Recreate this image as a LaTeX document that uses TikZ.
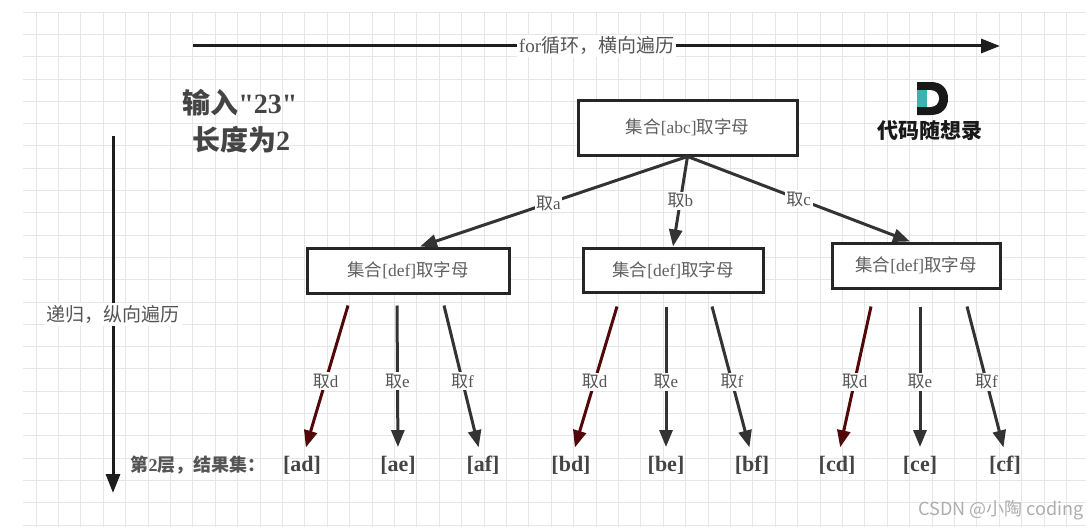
\documentclass[tikz,border=0pt]{standalone}
\usepackage{fontspec}
\setmainfont{Liberation Serif}[Ligatures=TeXOff]
\newfontfamily\cjk{Noto Sans CJK SC}
\usetikzlibrary{arrows.meta}
\definecolor{gridc}{HTML}{E6E6E6}
\definecolor{edgec}{HTML}{333333}
\definecolor{axisc}{HTML}{1E1E1E}
\definecolor{redc}{HTML}{520808}
\definecolor{txtc}{HTML}{555555}
\definecolor{boxtxt}{HTML}{606060}
\definecolor{titlec}{HTML}{444444}
\definecolor{logoteal}{HTML}{3BB3B3}
\begin{document}
\begin{tikzpicture}[x=1pt,y=-1pt,
  gridline/.style={draw=gridc, line width=0.8pt},
  axis/.style={draw=axisc, line width=3pt, -{Triangle[length=19pt,width=14pt]}},
  axlab/.style={fill=white, inner sep=2pt, text=txtc, font=\fontsize{19}{22}\selectfont},
  setbox/.style={draw=black!85, line width=3pt, fill=white, inner sep=0pt, text=boxtxt, font=\fontsize{17.5}{20}\selectfont},
  edge/.style={draw=edgec, line width=3pt, -{Triangle[length=17pt,width=13pt]}},
  redge/.style={edge, draw=redc},
  elab/.style={fill=white, inner sep=1.5pt, text=txtc, font=\fontsize{17}{19}\selectfont},
  res/.style={inner sep=0pt, text height=14pt, text depth=3.5pt, text=titlec, font=\bfseries\fontsize{22}{24}\selectfont},
  titletxt/.style={inner sep=0pt, text=titlec, font=\bfseries\fontsize{28}{32}\selectfont},
  lvl/.style={inner sep=0pt, text=txtc, font=\bfseries\fontsize{18}{20}\selectfont},
  logotxt/.style={inner sep=0pt, text=black!90, font=\cjk\bfseries\fontsize{21}{24}\selectfont},
  wmark/.style={inner sep=0pt, anchor=east, text=black!32, font=\cjk\fontsize{18}{20}\selectfont}
]
\useasboundingbox (0,0) rectangle (1086,527);
\fill[white] (0,0) rectangle (1086,527);
% grid
\foreach \i in {0,...,46} \draw[gridline] ({36+22.4*\i},12) -- ({36+22.4*\i},527);
\foreach \j in {0,...,23} \draw[gridline] (23,{12+22.3*\j}) -- (1086,{12+22.3*\j});

% axes
\coordinate (tl) at (193,46);
\coordinate (tr) at (1000,46);
\draw[axis] (tl) -- node[axlab] (forl) {for{\cjk 循环，横向遍历}} (tr);
\coordinate (vt) at (113,136);
\coordinate (vb) at (113,493);
\draw[axis] (vt) -- node[axlab] (recl) {\cjk 递归，纵向遍历} (vb);

% title
\node[titletxt] (t1) at (240,103) {{\cjk\bfseries 输入}"23"};
\node[titletxt] (t2) at (241,140) {{\cjk\bfseries 长度为}2};

% logo
\fill[black!90] (917,82) -- (931,82) .. controls (942,82) and (948,89) .. (948,98.5)
  .. controls (948,108) and (942,115) .. (931,115) -- (917,115) -- cycle;
\fill[white] (927,90) -- (930,90) .. controls (936,90) and (939,94) .. (939,98.5)
  .. controls (939,103) and (936,107) .. (930,107) -- (927,107) -- cycle;
\fill[logoteal] (917,90) rectangle (927,107);
\node[logotxt] (logot) at (930,131) {代码随想录};

% boxes
\node[setbox, minimum width=219pt, minimum height=55pt] (root) at (687.5,127.5) {{\cjk 集合}[abc]{\cjk 取字母}};
\node[setbox, minimum width=202pt, minimum height=45pt] (def1) at (408,270.5) {{\cjk 集合}[def]{\cjk 取字母}};
\node[setbox, minimum width=180pt, minimum height=44pt] (def2) at (673,270) {{\cjk 集合}[def]{\cjk 取字母}};
\node[setbox, minimum width=168pt, minimum height=45pt] (def3) at (916,265.5) {{\cjk 集合}[def]{\cjk 取字母}};

\draw[edge] (root.south) -- node[elab, pos=0.52] (la) {{\cjk 取}a} ([xshift=12pt]def1.north);
\draw[edge] (root.south) -- node[elab, pos=0.49] (lb) {{\cjk 取}b} (def2.north);
\draw[edge] (root.south) -- node[elab, pos=0.5] (lc) {{\cjk 取}c} ([xshift=-6pt]def3.north);

% results
\node[lvl] (lvl2) at (198,465) {{\cjk\bfseries 第}2{\cjk\bfseries 层，结果集：}};
\node[res] (ad) at (302,466) {[ad]};
\node[res] (ae) at (398,466) {[ae]};
\node[res] (af) at (483,466) {[af]};
\node[res] (bd) at (571,466) {[bd]};
\node[res] (be) at (666,466) {[be]};
\node[res] (bf) at (752,466) {[bf]};
\node[res] (cd) at (837,466) {[cd]};
\node[res] (ce) at (920,466) {[ce]};
\node[res] (cf) at (1005,466) {[cf]};

% lower edges
\coordinate (s1d) at ([shift={(-60,11)}]def1.south);
\coordinate (s1e) at ([shift={(-11,11)}]def1.south);
\coordinate (s1f) at ([shift={(36,11)}]def1.south);
\coordinate (s2d) at ([shift={(-56,13)}]def2.south);
\coordinate (s2e) at ([shift={(-7,13)}]def2.south);
\coordinate (s2f) at ([shift={(39,13)}]def2.south);
\coordinate (s3d) at ([shift={(-45,17)}]def3.south);
\coordinate (s3e) at ([shift={(4,17)}]def3.south);
\coordinate (s3f) at ([shift={(51,17)}]def3.south);

\draw[redge, shorten >=10pt] (s1d) -- node[elab] (l1d) {{\cjk 取}d} ([xshift=1pt]ad.north);
\draw[edge, shorten >=10pt] (s1e) -- node[elab] (l1e) {{\cjk 取}e} (ae.north);
\draw[edge, shorten >=10pt] (s1f) -- node[elab] (l1f) {{\cjk 取}f} ([xshift=-2pt]af.north);
\draw[redge, shorten >=10pt] (s2d) -- node[elab] (l2d) {{\cjk 取}d} ([xshift=1pt]bd.north);
\draw[edge, shorten >=10pt] (s2e) -- node[elab] (l2e) {{\cjk 取}e} (be.north);
\draw[edge, shorten >=10pt] (s2f) -- node[elab] (l2f) {{\cjk 取}f} (bf.north);
\draw[redge, shorten >=10pt] (s3d) -- node[elab] (l3d) {{\cjk 取}d} ([xshift=1pt]cd.north);
\draw[edge, shorten >=10pt] (s3e) -- node[elab] (l3e) {{\cjk 取}e} (ce.north);
\draw[edge, shorten >=10pt] (s3f) -- node[elab] (l3f) {{\cjk 取}f} ([xshift=1pt]cf.north);

% watermark
\node[wmark] (wm) at (1084,510) {CSDN @小陶 coding};
\end{tikzpicture}
\end{document}
